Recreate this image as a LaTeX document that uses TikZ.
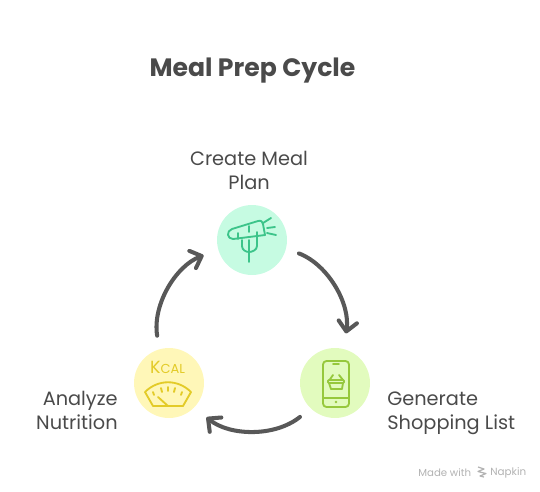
\documentclass[tikz,border=0pt]{standalone}
\usepackage{fontspec}
\setmainfont{Poppins}
\usepackage{tikz}
\usetikzlibrary{positioning,calc}
\usetikzlibrary{arrows.meta}
\definecolor{InkGray}{RGB}{74,74,74}
\definecolor{ArrowGray}{RGB}{88,88,88}
\definecolor{MarkGray}{RGB}{178,178,178}
\definecolor{MealFill}{RGB}{198,251,226}
\definecolor{MealLine}{RGB}{60,196,138}
\definecolor{ShopFill}{RGB}{226,251,190}
\definecolor{ShopLine}{RGB}{150,200,60}
\definecolor{KcalFill}{RGB}{255,247,184}
\definecolor{KcalLine}{RGB}{227,203,40}
\tikzset{
	hub/.style={circle,draw=none,minimum size=1.4cm,inner sep=0pt},
	cyc/.style={draw=ArrowGray,line width=2.3pt,line cap=round,line join=round,
		-{Straight Barb[length=5.5pt,width=10.5pt,line width=2.3pt,round]},
		shorten >=0.31cm,shorten <=0.27cm},
	lab/.style={text=InkGray,font=\fontsize{11}{13.6}\selectfont,inner sep=0pt},
	icon/.style={line width=1.05pt,line cap=round,line join=round},
}

\begin{document}
\begin{tikzpicture}[x=0.02cm,y=-0.02cm]
	\useasboundingbox (0,0) rectangle (540,491);
	\node[hub,fill=MealFill] (meal) at (252,240) {};
	\node[hub,fill=ShopFill] (shop) at (335,383) {};
	\node[hub,fill=KcalFill] (kcal) at (169,383) {};
	\draw[cyc] (meal.-14) to[out=-21,in=81] (shop.76);
	\draw[cyc] (shop.-134) to[out=-141,in=-39] (kcal.-44);
	\draw[cyc] (kcal.106) to[out=99,in=-159] (meal.-164);
	% labels
	\node[text=InkGray,font=\fontsize{14.3}{16}\selectfont\bfseries,inner sep=0pt] (title) at (252.5,71) {Meal Prep Cycle};
	\node[lab,align=center] (mealtxt) at (249,170) {Create Meal\\Plan};
	\node[lab,align=left,anchor=west] (shoptxt) at (387,413) {Generate\\Shopping List};
	\node[lab,align=right,anchor=east] (kcaltxt) at (118,410) {Analyze\\Nutrition};
	% carrot
	\draw[icon,MealLine] (232,229) -- (258,221) .. controls (261,220) and (263,222) .. (263,224)
		-- (265,235) -- (233,239) .. controls (227,239) and (226,231) .. (232,229);
	\draw[icon,MealLine] (242,240) -- (242,246) .. controls (242,250) and (246,252) .. (249,252)
		.. controls (252,252) and (257,250) .. (257,246) -- (257,232);
	\draw[icon,MealLine] (249,240) -- (249,262);
	\draw[icon,MealLine] (238,233) -- (238,239);
	\draw[icon,MealLine] (249,226) -- (249,232);
	\foreach \a/\b/\c/\d in {263/223/271/218,267/228/275/227,267/233/276/235}
	\draw[icon,MealLine] (\a,\b) -- (\c,\d);
	% phone
	\draw[icon,ShopLine,rounded corners=2pt] (323,361) rectangle (349,407);
	\draw[icon,ShopLine] (333,364) -- (339,364);
	\draw[icon,ShopLine] (323,398) -- (349,398);
	\fill[ShopLine] (336,402) circle (1.3);
	\draw[icon,ShopLine,rounded corners=0.5pt] (328,380) rectangle (344,383);
	\draw[icon,ShopLine] (329,383) -- (331,389) -- (342,389) -- (343,383);
	\draw[icon,ShopLine] (329.5,380) -- (333,375);
	\draw[icon,ShopLine] (343,380) -- (339,375);
	% scale
	\node[text=KcalLine,inner sep=0pt] (kcalword) at (167.5,367)
		{\fontsize{10}{9}\selectfont K\fontsize{7.4}{9}\selectfont CAL};
	\draw[icon,KcalLine] (145,392) .. controls (158,379) and (178,379) .. (191,392)
		-- (183,406) -- (153,406) -- cycle;
	\foreach \a/\b/\c/\d in {153/392/154/395,161/388/162/392,168/387/168/391,175/388/174/392,182/392/181/395}
	\draw[icon,KcalLine] (\a,\b) -- (\c,\d);
	\draw[icon,KcalLine] (158,397) -- (168,406);
	% footer
	\node[text=MarkGray,font=\fontsize{5.8}{8}\selectfont,inner sep=0pt,anchor=west] (made) at (418,473) {Made with};
	\node[text=MarkGray,font=\fontsize{5.9}{8}\selectfont,inner sep=0pt,anchor=west] (napkin) at (490,473) {Napkin};
	\draw[MarkGray,line width=0.7pt,line join=round] (478,467) -- (484,469) -- (478,471.5) -- (486,473.5) -- (480,476) -- (484,477);
\end{tikzpicture}
\end{document}
